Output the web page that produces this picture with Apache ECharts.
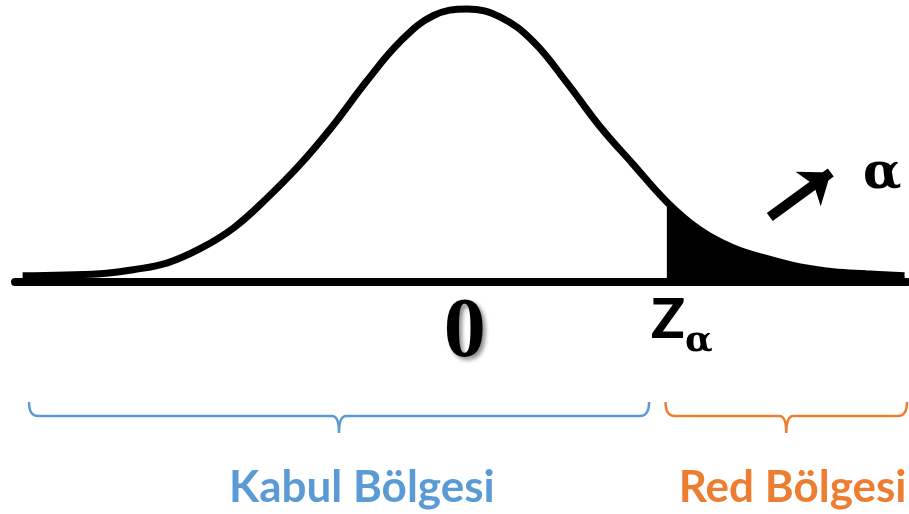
<!DOCTYPE html>
<html>
<head>
<meta charset="utf-8">
<script src="https://cdn.jsdelivr.net/npm/echarts@6/dist/echarts.min.js"></script>
<style>
  html, body { margin: 0; padding: 0; background: #fff; }
  #chart { width: 909px; height: 514px; }
</style>
</head>
<body>
<div id="chart"></div>
<script>
// curve: z (standard units) and density
var zValues = [-3.48, -2.87, -2.61, -2.34, -2.08, -1.82, -1.56, -1.30, -1.04, -0.77, -0.51, -0.25, 0.02,
  0.28, 0.54, 0.80, 1.06, 1.32, 1.59, 1.85, 2.11, 2.38, 2.64, 2.90, 3.16, 3.46];
var density = [0.009, 0.012, 0.018, 0.028, 0.049, 0.079, 0.122, 0.171, 0.228, 0.294, 0.351, 0.389, 0.399,
  0.387, 0.351, 0.292, 0.228, 0.173, 0.117, 0.076, 0.050, 0.034, 0.022, 0.015, 0.012, 0.009];
var zAlpha = 1.59;

// regions under the axis: [start, end, label centre]
var regionNames = ['Kabul Bölgesi', 'Red Bölgesi'];
var regionStart = [-3.43, 1.58];
var regionEnd = [1.45, 3.48];
var regionLabelAt = [-0.81, 2.58];
var regionColors = ['#5B9BD5', '#ED7D31'];

// arrow pointing at the tail area
var arrowFrom = [2.40, 0.095];
var arrowTo = [2.88, 0.160];

var curve = zValues.map(function (z, i) { return [z, density[i]]; });
var tail = curve.filter(function (p) { return p[0] >= zAlpha; });
var regions = regionNames.map(function (n, i) { return [regionStart[i], regionEnd[i], regionLabelAt[i], i]; });

var chart = echarts.init(document.getElementById('chart'));

chart.setOption({
  animation: false,
  grid: { left: 15, right: 2, top: 0, bottom: 232, containLabel: false, outerBoundsMode: 'none' },
  xAxis: {
    type: 'value',
    min: -3.54,
    max: 3.48,
    splitLine: { show: false },
    axisTick: { show: false },
    axisLine: { onZero: false, lineStyle: { color: '#000', width: 8 } },
    axisLabel: {
      customValues: [0, zAlpha],
      margin: 10,
      formatter: function (v) {
        return v === 0 ? '{zero|0}' : '{z|Z}{a|α}';
      },
      rich: {
        zero: {
          fontFamily: 'Liberation Serif', fontWeight: 'bold', fontSize: 84, color: '#000',
          textShadowColor: 'rgba(0,0,0,0.45)', textShadowBlur: 4, textShadowOffsetX: 3, textShadowOffsetY: 3
        },
        z: {
          fontFamily: 'Lato', fontWeight: 900, fontSize: 56, color: '#000',
          lineHeight: 52, verticalAlign: 'top', padding: [0, 0, 0, 30]
        },
        a: {
          fontFamily: 'DejaVu Serif', fontWeight: 'bold', fontSize: 36, color: '#000',
          lineHeight: 36, verticalAlign: 'top', padding: [32, 0, 0, 0]
        }
      }
    }
  },
  yAxis: { type: 'value', min: 0, max: 0.412, show: false },
  graphic: [{
    type: 'text',
    style: {
      text: 'α', x: 863, y: 175, verticalAlign: 'middle',
      font: 'bold 50px "DejaVu Serif"', fill: '#000'
    }
  }],
  series: [
    {
      name: 'tail',
      type: 'line',
      data: tail,
      smooth: 0.4,
      showSymbol: false,
      lineStyle: { width: 0 },
      areaStyle: { color: '#000', opacity: 1 },
      z: 2,
      markLine: {
        silent: true,
        symbol: ['none', 'arrow'],
        symbolSize: [32, 28],
        label: { show: false },
        lineStyle: { color: '#000', width: 10, type: 'solid' },
        data: [[{ coord: arrowFrom }, { coord: arrowTo }]]
      }
    },
    {
      name: 'curve',
      type: 'line',
      data: curve,
      smooth: 0.4,
      showSymbol: false,
      lineStyle: { color: '#000', width: 7 },
      z: 3
    },
    {
      name: 'regions',
      type: 'custom',
      clip: false,
      data: regions,
      renderItem: function (params, api) {
        var a = api.coord([api.value(0), 0]);
        var b = api.coord([api.value(1), 0]);
        var c = api.coord([api.value(2), 0]);
        var col = regionColors[api.value(3)];
        var x0 = a[0], x1 = b[0], y0 = a[1];
        var cx = (x0 + x1) / 2;
        var top = y0 + 120, mid = y0 + 134, tip = y0 + 151;
        var d = 'M' + x0 + ',' + top +
          ' Q' + x0 + ',' + mid + ' ' + (x0 + 9) + ',' + mid +
          ' L' + (cx - 7) + ',' + mid +
          ' Q' + cx + ',' + mid + ' ' + cx + ',' + tip +
          ' Q' + cx + ',' + mid + ' ' + (cx + 7) + ',' + mid +
          ' L' + (x1 - 9) + ',' + mid +
          ' Q' + x1 + ',' + mid + ' ' + x1 + ',' + top;
        return {
          type: 'group',
          children: [
            {
              type: 'path',
              shape: { pathData: d },
              style: { fill: 'none', stroke: col, lineWidth: 2.5 }
            },
            {
              type: 'text',
              style: {
                text: regionNames[api.value(3)], x: c[0], y: y0 + 206,
                align: 'center', verticalAlign: 'middle',
                font: 'bold 44px Lato', fill: col
              }
            }
          ]
        };
      }
    }
  ]
});
</script>
</body>
</html>
